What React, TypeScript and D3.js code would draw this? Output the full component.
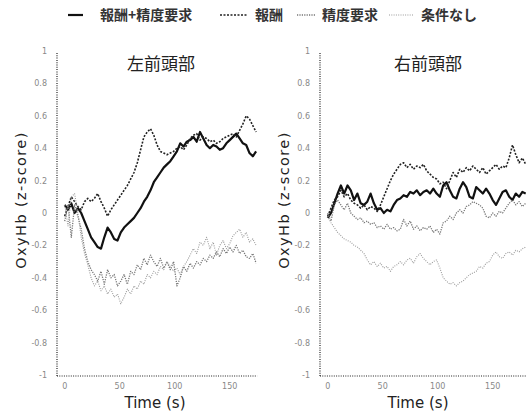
import React from 'react'
import * as d3 from 'd3'

// time samples (s)
const time = [0, 3, 6, 9, 12, 15, 18, 21, 24, 27, 30, 33, 36, 39, 42, 45, 48, 51, 54, 57, 60, 63, 66, 69, 72, 75, 78, 81, 84, 87, 90, 93, 96, 99, 102, 105, 108, 111, 114, 117, 120, 123, 126, 129, 132, 135, 138, 141, 144, 147, 150, 153, 156, 159, 162, 165, 168, 171, 174, 177, 180]

const seriesNames = ['報酬+精度要求', '報酬', '精度要求', '条件なし']
const yTicks = [1, 0.8, 0.6, 0.4, 0.2, 0, -0.2, -0.4, -0.6, -0.8, -1]
const xTicks = [0, 50, 100, 150]

// left prefrontal (0..174 s)
const leftBoth = [0.05, 0.02, 0.06, 0.0, 0.03, 0.0, -0.05, -0.1, -0.15, -0.18, -0.21, -0.22, -0.15, -0.09, -0.12, -0.16, -0.17, -0.12, -0.09, -0.07, -0.05, -0.03, 0.0, 0.03, 0.07, 0.1, 0.14, 0.19, 0.22, 0.25, 0.28, 0.3, 0.32, 0.35, 0.38, 0.43, 0.41, 0.44, 0.45, 0.47, 0.44, 0.5, 0.46, 0.42, 0.4, 0.42, 0.41, 0.39, 0.4, 0.43, 0.45, 0.47, 0.49, 0.46, 0.43, 0.42, 0.37, 0.35, 0.38]
const leftReward = [-0.02, 0.04, 0.1, 0.07, 0.04, 0.02, 0.07, 0.09, 0.07, 0.09, 0.12, 0.07, 0.03, -0.02, 0.02, 0.05, 0.08, 0.11, 0.14, 0.17, 0.21, 0.25, 0.31, 0.39, 0.47, 0.5, 0.52, 0.48, 0.42, 0.38, 0.37, 0.36, 0.37, 0.38, 0.4, 0.41, 0.39, 0.42, 0.46, 0.48, 0.49, 0.45, 0.47, 0.46, 0.44, 0.45, 0.43, 0.44, 0.46, 0.47, 0.48, 0.49, 0.47, 0.51, 0.55, 0.6, 0.58, 0.54, 0.5]
const leftAccuracy = [-0.05, 0.05, -0.15, 0.05, -0.02, -0.1, -0.22, -0.3, -0.35, -0.38, -0.42, -0.36, -0.44, -0.35, -0.4, -0.38, -0.45, -0.42, -0.38, -0.44, -0.36, -0.38, -0.32, -0.35, -0.28, -0.32, -0.26, -0.3, -0.33, -0.28, -0.34, -0.3, -0.35, -0.3, -0.45, -0.4, -0.33, -0.36, -0.31, -0.34, -0.3, -0.32, -0.28, -0.3, -0.26, -0.28, -0.24, -0.27, -0.22, -0.25, -0.21, -0.24, -0.2, -0.25, -0.23, -0.27, -0.28, -0.25, -0.31]
const leftNone = [0.05, -0.08, 0.1, 0.12, 0.0, -0.15, -0.25, -0.32, -0.4, -0.45, -0.42, -0.48, -0.45, -0.5, -0.47, -0.52, -0.5, -0.56, -0.52, -0.47, -0.5, -0.45, -0.47, -0.42, -0.44, -0.38, -0.4, -0.36, -0.38, -0.33, -0.35, -0.3, -0.33, -0.36, -0.34, -0.38, -0.33, -0.3, -0.26, -0.22, -0.25, -0.18, -0.2, -0.15, -0.22, -0.18, -0.26, -0.2, -0.17, -0.22, -0.19, -0.14, -0.12, -0.1, -0.15, -0.12, -0.18, -0.16, -0.2]

// right prefrontal (0..180 s)
const rightBoth = [-0.03, 0.0, 0.06, 0.12, 0.17, 0.12, 0.17, 0.14, 0.08, 0.12, 0.06, 0.05, 0.07, 0.12, 0.06, 0.02, 0.03, 0.0, 0.02, 0.01, 0.05, 0.08, 0.09, 0.11, 0.1, 0.13, 0.12, 0.14, 0.11, 0.13, 0.14, 0.12, 0.15, 0.12, 0.1, 0.17, 0.19, 0.14, 0.1, 0.09, 0.15, 0.19, 0.16, 0.1, 0.09, 0.16, 0.14, 0.12, 0.15, 0.12, 0.08, 0.05, 0.09, 0.13, 0.14, 0.1, 0.08, 0.12, 0.1, 0.13, 0.12]
const rightReward = [-0.02, 0.03, 0.08, 0.1, 0.14, 0.1, 0.12, 0.08, 0.06, 0.05, 0.03, 0.05, 0.02, 0.04, 0.03, 0.01, 0.05, 0.1, 0.15, 0.2, 0.24, 0.27, 0.3, 0.31, 0.28, 0.3, 0.27, 0.29, 0.28, 0.3, 0.26, 0.24, 0.22, 0.21, 0.18, 0.19, 0.15, 0.2, 0.25, 0.22, 0.27, 0.25, 0.28, 0.26, 0.29, 0.27, 0.25, 0.28, 0.24, 0.26, 0.28, 0.3, 0.27, 0.29, 0.28, 0.34, 0.42, 0.36, 0.31, 0.34, 0.3]
const rightAccuracy = [0.0, -0.05, 0.05, 0.08, 0.05, 0.02, 0.06, 0.0, -0.02, -0.04, -0.03, -0.06, -0.05, -0.07, -0.06, -0.09, -0.08, -0.1, -0.07, -0.1, -0.09, -0.11, -0.1, -0.04, -0.08, -0.05, -0.1, -0.08, -0.11, -0.09, -0.1, -0.08, -0.12, -0.1, -0.13, -0.06, -0.05, -0.02, -0.04, 0.0, 0.02, 0.0, 0.04, 0.05, 0.07, 0.06, 0.05, 0.03, -0.02, -0.03, 0.0, -0.02, 0.01, 0.0, 0.03, 0.06, 0.08, 0.05, 0.07, 0.04, 0.06]
const rightNone = [-0.02, -0.06, -0.09, -0.12, -0.14, -0.16, -0.17, -0.18, -0.2, -0.21, -0.23, -0.25, -0.29, -0.32, -0.3, -0.33, -0.31, -0.34, -0.33, -0.36, -0.33, -0.32, -0.3, -0.32, -0.29, -0.28, -0.31, -0.27, -0.25, -0.28, -0.3, -0.32, -0.3, -0.29, -0.34, -0.4, -0.42, -0.44, -0.43, -0.45, -0.43, -0.42, -0.4, -0.38, -0.37, -0.36, -0.33, -0.34, -0.31, -0.3, -0.26, -0.24, -0.27, -0.28, -0.25, -0.24, -0.26, -0.23, -0.24, -0.22, -0.21]

const styles = [
  { stroke: '#111', width: 2.2, dash: 'none' },
  { stroke: '#222', width: 1.6, dash: '2,1.5' },
  { stroke: '#777', width: 1.3, dash: '1.2,1.2' },
  { stroke: '#9a9a9a', width: 1.1, dash: '1,1.3' },
]

const jp = '"Noto Sans CJK JP", sans-serif'
const latin = '"DejaVu Sans", sans-serif'

function Panel({ title, left, xMax, series }) {
  const x = d3.scaleLinear().domain([-7, xMax]).range([left, left + 1.1 * (xMax + 7)])
  const y = d3.scaleLinear().domain([-1, 1]).range([375, 51])
  const line = d3.line<number>().x((_, i) => x(time[i])).y(d => y(d))
  const [x0, x1] = x.range()
  return (
    <g>
      <text x={(x0 + x1) / 2 + 4} y={70} textAnchor="middle" fontFamily={jp} fontSize={17} fill="#222">{title}</text>
      {series.map((s, i) => (
        <path key={i} d={line(s) || ''} fill="none" stroke={styles[i].stroke}
          strokeWidth={styles[i].width} strokeDasharray={styles[i].dash} strokeLinejoin="round" />
      ))}
      <line x1={x0} x2={x0} y1={y(1) + 2} y2={y(-1) + 1} stroke="#222" strokeWidth={1.2} strokeDasharray="1,1.3" />
      <line x1={x0} x2={x1} y1={y(-1) + 1} y2={y(-1) + 1} stroke="#222" strokeWidth={1.2} strokeDasharray="1,1.3" />
      {yTicks.map(t => (
        <text key={t} x={x0 - 10} y={y(t) + 3} textAnchor="end" fontFamily={latin} fontSize={8} fill="#888">{t}</text>
      ))}
      {xTicks.map(t => (
        <text key={t} x={x(t)} y={389} textAnchor="middle" fontFamily={latin} fontSize={8} fill="#888">{t}</text>
      ))}
      <text x={x0 + 98} y={408} textAnchor="middle" fontFamily={latin} fontSize={15} fill="#222">Time (s)</text>
      <text transform={`translate(${x0 - 31},200) rotate(-90)`} textAnchor="middle" fontFamily={latin}
        fontSize={14.5} letterSpacing={1.4} fill="#222">OxyHb (z-score)</text>
    </g>
  )
}

const legendLayout = [
  { x1: 68, x2: 83, tx: 100 },
  { x1: 220, x2: 247, tx: 255 },
  { x1: 297, x2: 316, tx: 322 },
  { x1: 389, x2: 413, tx: 421 },
]

export default function App() {
  return (
    <svg width={526} height={412} style={{ position: 'absolute', left: 0, top: 0, background: '#fff' }}>
      {seriesNames.map((n, i) => (
        <g key={n}>
          <line x1={legendLayout[i].x1} x2={legendLayout[i].x2} y1={15} y2={15} stroke={styles[i].stroke}
            strokeWidth={styles[i].width} strokeDasharray={styles[i].dash} />
          <text x={legendLayout[i].tx} y={20} fontFamily={jp} fontSize={14} fontWeight="bold" fill="#333">{n}</text>
        </g>
      ))}
      <Panel title="左前頭部" left={57} xMax={175} series={[leftBoth, leftReward, leftAccuracy, leftNone]} />
      <Panel title="右前頭部" left={320} xMax={182} series={[rightBoth, rightReward, rightAccuracy, rightNone]} />
    </svg>
  )
}
